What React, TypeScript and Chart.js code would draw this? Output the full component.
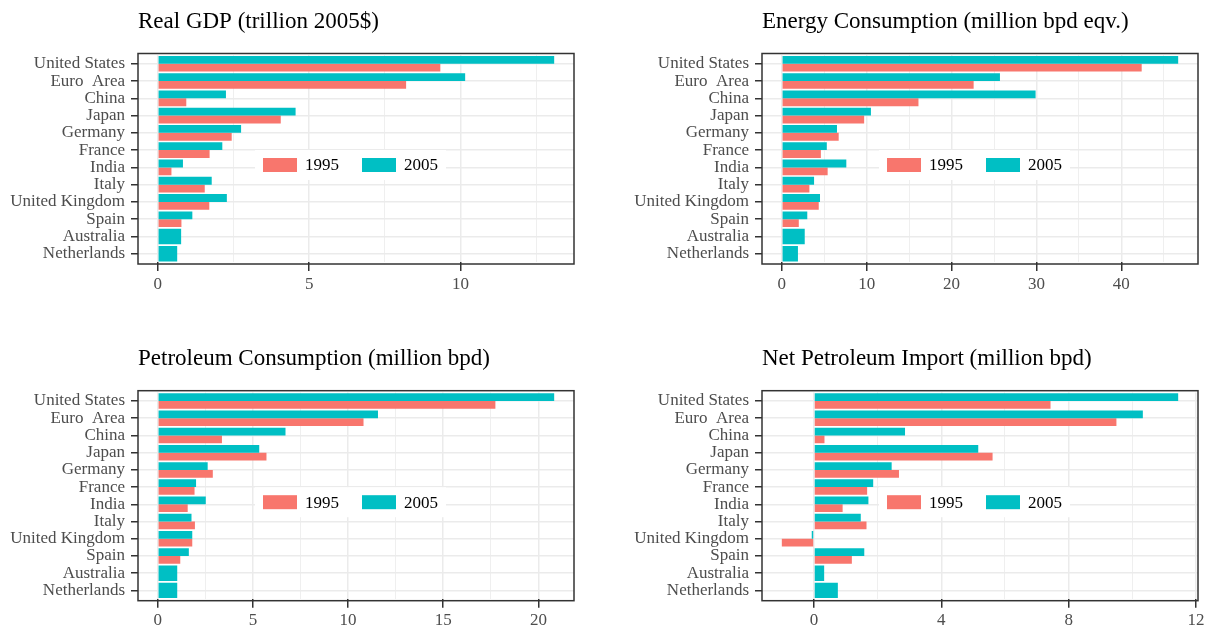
import React, { useEffect, useRef } from "react";
import { Chart, registerables } from "chart.js";

Chart.register(...registerables);

// Countries, top to bottom
const countries = [
  "United States",
  "Euro  Area",
  "China",
  "Japan",
  "Germany",
  "France",
  "India",
  "Italy",
  "United Kingdom",
  "Spain",
  "Australia",
  "Netherlands",
];

const years = ["1995", "2005"];

// Real GDP, trillion 2005$
const gdp1995 = [9.33, 8.2, 0.94, 4.06, 2.44, 1.71, 0.45, 1.55, 1.7, 0.78, null, null];
const gdp2005 = [13.09, 10.15, 2.25, 4.55, 2.75, 2.13, 0.83, 1.78, 2.28, 1.14, 0.77, 0.64];

// Energy consumption, million bpd equivalent
const energy1995 = [42.4, 22.6, 16.1, 9.7, 6.7, 4.6, 5.4, 3.25, 4.35, 2.0, null, null];
const energy2005 = [46.7, 25.7, 29.9, 10.5, 6.5, 5.3, 7.6, 3.8, 4.5, 3.0, 2.7, 1.9];

// Petroleum consumption, million bpd
const petrol1995 = [17.74, 10.81, 3.37, 5.71, 2.89, 1.93, 1.57, 1.95, 1.81, 1.18, null, null];
const petrol2005 = [20.83, 11.57, 6.71, 5.33, 2.62, 2.01, 2.52, 1.77, 1.81, 1.63, 1.02, 1.02];

// Net petroleum import, million bpd
const import1995 = [7.43, 9.5, 0.33, 5.61, 2.67, 1.67, 0.9, 1.65, -1.01, 1.19, null, null];
const import2005 = [11.44, 10.33, 2.86, 5.16, 2.44, 1.86, 1.71, 1.47, -0.07, 1.58, 0.32, 0.75];

// Axis breaks
const gdpMajor = [0, 5, 10];
const gdpMinor = [2.5, 7.5, 12.5];
const energyMajor = [0, 10, 20, 30, 40];
const energyMinor = [5, 15, 25, 35, 45];
const petrolMajor = [0, 5, 10, 15, 20];
const petrolMinor = [2.5, 7.5, 12.5, 17.5];
const importMajor = [0, 4, 8, 12];
const importMinor = [2, 6, 10];

const colors: Record<string, string> = { "1995": "#F8766D", "2005": "#00BFC4" };

const FONT = "'Liberation Serif', 'Times New Roman', serif";
const TITLE_SIZE = 23;
const TEXT_SIZE = 17;

type PanelProps = {
  title: string;
  v1995: (number | null)[];
  v2005: (number | null)[];
  major: number[];
  minor: number[];
  x: number;
  y: number;
  w: number;
  h: number;
  area: { left: number; right: number; top: number; bottom: number };
};

const X_AXIS_H = 40;
const TICK_LEN = 7;

function Panel({ title, v1995, v2005, major, minor, x, y, w, h, area }: PanelProps) {
  const ref = useRef<HTMLCanvasElement | null>(null);

  useEffect(() => {
    if (!ref.current) return;

    // ggplot-style 5% expansion of the data range
    const all = [...v1995, ...v2005].filter((v) => v !== null) as number[];
    const lo = Math.min(0, ...all);
    const hi = Math.max(0, ...all);
    const pad = (hi - lo) * 0.05;

    // discrete axis padding of 0.6 band instead of 0.5: inset the plotting area
    const boxH = area.bottom - area.top;
    const inset = (0.1 * boxH) / (countries.length - 1 + 1.2);

    const isMajor = (v: number) => major.some((m) => Math.abs(m - v) < 1e-9);

    const panelPlugin = {
      id: "panelDecor",
      afterDraw(chart: any) {
        const { ctx, chartArea } = chart;
        const left = chartArea.left;
        const right = chartArea.right;
        const top = chartArea.top - inset;
        const bottom = chartArea.bottom + inset;
        ctx.save();

        // title
        ctx.fillStyle = "#000000";
        ctx.font = `${TITLE_SIZE}px ${FONT}`;
        ctx.textAlign = "left";
        ctx.textBaseline = "alphabetic";
        ctx.fillText(title, left, top - 25.5);

        // legend inside the panel
        const kx = left + 125;
        const cy = top + 111.5;
        const keyW = 34;
        const keyH = 14;
        ctx.font = `${TEXT_SIZE}px ${FONT}`;
        ctx.textBaseline = "middle";
        const t2 = ctx.measureText(years[1]).width;
        const k2x = kx + 99;
        const endX = k2x + keyW + 8 + t2;
        ctx.fillStyle = "#ffffff";
        ctx.fillRect(kx - 8, cy - 15, endX - kx + 16, 30);

        ctx.fillStyle = colors[years[0]];
        ctx.fillRect(kx, cy - keyH / 2, keyW, keyH);
        ctx.fillStyle = "#000000";
        ctx.fillText(years[0], kx + keyW + 8, cy + 1);

        ctx.fillStyle = colors[years[1]];
        ctx.fillRect(k2x, cy - keyH / 2, keyW, keyH);
        ctx.fillStyle = "#000000";
        ctx.fillText(years[1], k2x + keyW + 8, cy + 1);

        // panel border
        ctx.strokeStyle = "#333333";
        ctx.lineWidth = 1.5;
        ctx.strokeRect(left, top, right - left, bottom - top);
        ctx.restore();
      },
    };

    const chart = new Chart(ref.current, {
      type: "bar",
      data: {
        labels: countries,
        datasets: [
          {
            label: years[1],
            data: v2005,
            backgroundColor: colors[years[1]],
            borderWidth: 0,
            categoryPercentage: 0.9,
            barPercentage: 1.0,
            skipNull: true,
          },
          {
            label: years[0],
            data: v1995,
            backgroundColor: colors[years[0]],
            borderWidth: 0,
            categoryPercentage: 0.9,
            barPercentage: 1.0,
            skipNull: true,
          },
        ],
      },
      options: {
        indexAxis: "y",
        responsive: false,
        animation: false,
        layout: {
          padding: {
            left: 0,
            top: area.top + inset,
            right: w - area.right,
            bottom: h - area.bottom + inset - X_AXIS_H,
          },
        },
        plugins: {
          legend: { display: false },
          title: { display: false },
          tooltip: { enabled: false },
        },
        scales: {
          x: {
            type: "linear",
            min: lo - pad,
            max: hi + pad,
            afterFit(scale: any) {
              scale.height = X_AXIS_H;
            },
            afterBuildTicks(scale: any) {
              scale.ticks = [...major, ...minor]
                .filter((v) => v >= lo - pad && v <= hi + pad)
                .sort((a, b) => a - b)
                .map((v) => ({ value: v }));
            },
            border: { display: false },
            grid: {
              color: "#EBEBEB",
              lineWidth: (c: any) => (isMajor(c.tick?.value) ? 1.5 : 0.8),
              tickColor: (c: any) => (isMajor(c.tick?.value) ? "#333333" : "rgba(0,0,0,0)"),
              tickWidth: 1.5,
              tickLength: TICK_LEN + inset,
            },
            ticks: {
              autoSkip: false,
              maxRotation: 0,
              padding: 3,
              color: "#4D4D4D",
              font: { family: FONT, size: TEXT_SIZE },
              callback: (v: any) => (isMajor(Number(v)) ? String(v) : ""),
            },
          },
          y: {
            type: "category",
            afterFit(scale: any) {
              scale.width = area.left;
            },
            border: { display: false },
            grid: {
              offset: false,
              color: "#EBEBEB",
              lineWidth: 1.5,
              tickColor: "#333333",
              tickWidth: 1.5,
              tickLength: TICK_LEN,
            },
            ticks: {
              autoSkip: false,
              padding: 6,
              color: "#4D4D4D",
              font: { family: FONT, size: TEXT_SIZE },
            },
          },
        },
      },
      plugins: [panelPlugin],
    } as any);

    return () => chart.destroy();
  }, [title, v1995, v2005, major, minor, w, h, area]);

  return (
    <canvas
      ref={ref}
      width={w}
      height={h}
      style={{ position: "absolute", left: x, top: y, width: w, height: h }}
    />
  );
}

// Panel boxes in page coordinates (relative to each canvas origin)
const topArea = { top: 53.5, bottom: 264 };
const bottomArea = { top: 390.7 - 314, bottom: 600.7 - 314 };
const leftArea = { left: 138, right: 574 };
const rightArea = { left: 162, right: 598 };

export default function App() {
  return (
    <div
      style={{
        position: "absolute",
        left: 0,
        top: 0,
        width: 1212,
        height: 628,
        background: "#ffffff",
        overflow: "hidden",
      }}
    >
      <Panel
        title="Real GDP (trillion 2005$)"
        v1995={gdp1995}
        v2005={gdp2005}
        major={gdpMajor}
        minor={gdpMinor}
        x={0}
        y={0}
        w={600}
        h={314}
        area={{ ...leftArea, ...topArea }}
      />
      <Panel
        title="Energy Consumption (million bpd eqv.)"
        v1995={energy1995}
        v2005={energy2005}
        major={energyMajor}
        minor={energyMinor}
        x={600}
        y={0}
        w={612}
        h={314}
        area={{ ...rightArea, ...topArea }}
      />
      <Panel
        title="Petroleum Consumption (million bpd)"
        v1995={petrol1995}
        v2005={petrol2005}
        major={petrolMajor}
        minor={petrolMinor}
        x={0}
        y={314}
        w={600}
        h={340}
        area={{ ...leftArea, ...bottomArea }}
      />
      <Panel
        title="Net Petroleum Import (million bpd)"
        v1995={import1995}
        v2005={import2005}
        major={importMajor}
        minor={importMinor}
        x={600}
        y={314}
        w={612}
        h={340}
        area={{ ...rightArea, ...bottomArea }}
      />
    </div>
  );
}
